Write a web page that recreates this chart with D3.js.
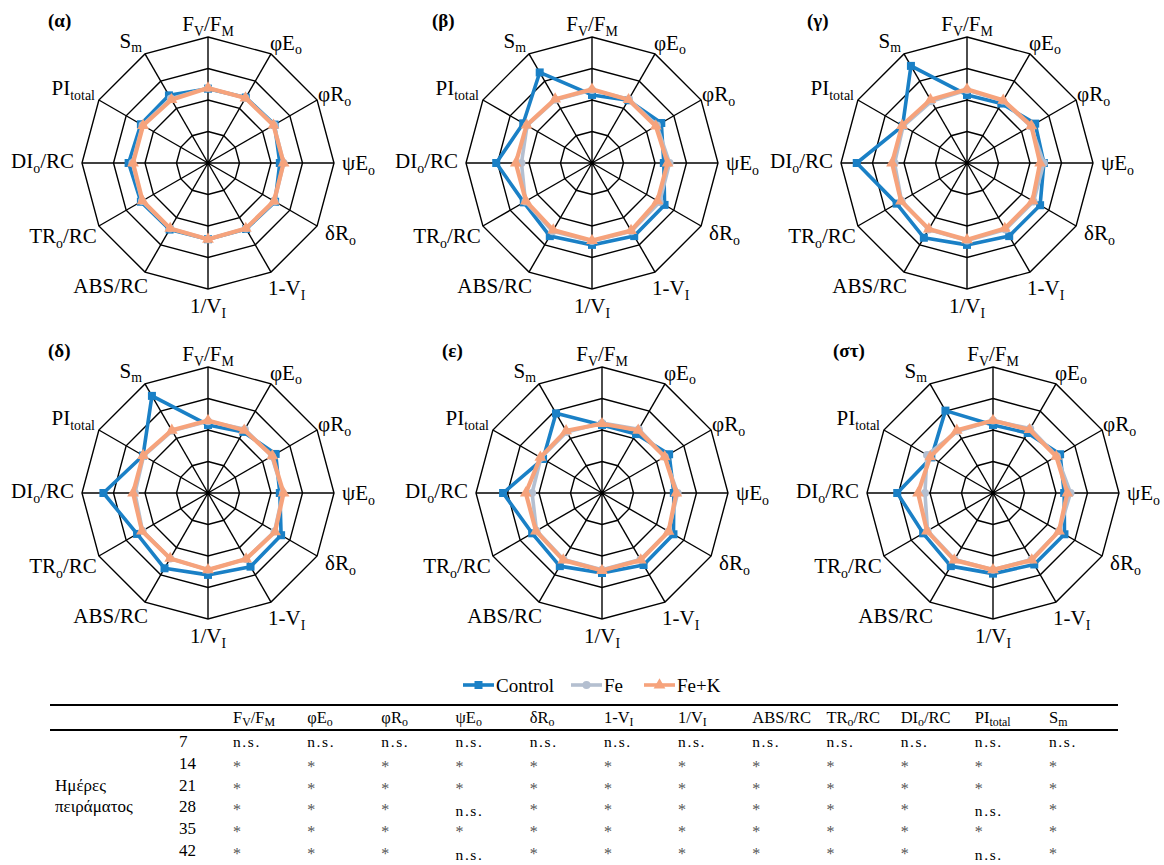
<!DOCTYPE html>
<html><head><meta charset="utf-8">
<script src="https://cdn.jsdelivr.net/npm/d3@7"></script>
</head><body style="margin:0">
<svg id="c" width="1164" height="865" style="display:block;font-family:serif"></svg>
<script>
// ---------------- DATA ----------------
const categories = ["F_{V}/F_{M}","φE_{o}","φR_{o}","ψE_{o}","δR_{o}","1-V_{I}","1/V_{I}","ABS/RC","TR_{o}/RC","DI_{o}/RC","PI_{total}","S_{m}"];
const panelTitles = ["(α)","(β)","(γ)","(δ)","(ε)","(στ)"];
const seriesNames = ["Control","Fe","Fe+K"];
const radialTicks = [0.5, 1, 1.5, 2];

// values per panel, order of categories
const control = [
  [1.18,1.20,1.22,1.14,1.23,1.21,1.21,1.22,1.23,1.26,1.23,1.24],
  [1.08,1.15,1.27,1.14,1.33,1.34,1.30,1.34,1.25,1.52,1.26,1.66],
  [1.08,1.09,1.25,1.22,1.34,1.34,1.30,1.37,1.29,1.75,1.18,1.78],
  [1.08,1.12,1.24,1.14,1.34,1.35,1.30,1.38,1.30,1.66,1.19,1.78],
  [1.08,1.08,1.23,1.14,1.31,1.32,1.27,1.34,1.28,1.57,1.08,1.46],
  [1.08,1.10,1.23,1.13,1.31,1.31,1.28,1.34,1.28,1.52,1.13,1.51]
];
const fe = [
  [1.19,1.19,1.21,1.20,1.22,1.20,1.21,1.20,1.21,1.20,1.20,1.18],
  [1.16,1.17,1.19,1.23,1.24,1.25,1.24,1.25,1.22,1.12,1.19,1.16],
  [1.16,1.14,1.17,1.22,1.22,1.22,1.23,1.22,1.20,1.15,1.17,1.13],
  [1.14,1.17,1.17,1.19,1.22,1.21,1.22,1.20,1.20,1.16,1.18,1.14],
  [1.11,1.17,1.15,1.20,1.22,1.22,1.22,1.22,1.20,1.11,1.12,1.12],
  [1.15,1.18,1.17,1.23,1.21,1.22,1.22,1.22,1.20,1.08,1.21,1.13]
];
const feK = [
  [1.19,1.19,1.20,1.20,1.21,1.20,1.21,1.20,1.20,1.19,1.19,1.16],
  [1.17,1.16,1.17,1.20,1.20,1.24,1.23,1.23,1.21,1.21,1.20,1.17],
  [1.17,1.15,1.18,1.16,1.20,1.20,1.22,1.21,1.21,1.19,1.19,1.16],
  [1.15,1.15,1.18,1.20,1.23,1.21,1.22,1.20,1.21,1.19,1.19,1.15],
  [1.10,1.15,1.15,1.18,1.22,1.23,1.23,1.23,1.21,1.21,1.13,1.14],
  [1.15,1.16,1.16,1.18,1.21,1.23,1.22,1.23,1.21,1.19,1.15,1.15]
];

// table
const tableHeaders = ["F_{V}/F_{M}","φE_{o}","φR_{o}","ψE_{o}","δR_{o}","1-V_{I}","1/V_{I}","ABS/RC","TR_{o}/RC","DI_{o}/RC","PI_{total}","S_{m}"];
const days = ["7","14","21","28","35","42"];
const rowLabel = ["Ημέρες","πειράματος"];
const NS = "n.s.", AST = "*";
const significance = [
  [NS,NS,NS,NS,NS,NS,NS,NS,NS,NS,NS,NS],
  [AST,AST,AST,AST,AST,AST,AST,AST,AST,AST,AST,AST],
  [AST,AST,AST,AST,AST,AST,AST,AST,AST,AST,AST,AST],
  [AST,AST,AST,NS,AST,AST,AST,AST,AST,AST,NS,AST],
  [AST,AST,AST,AST,AST,AST,AST,AST,AST,AST,AST,AST],
  [AST,AST,AST,NS,AST,AST,AST,AST,AST,AST,NS,AST]
];

// ---------------- LAYOUT / STYLE ----------------
const svg = d3.select("#c");
svg.append("rect").attr("width",1164).attr("height",865).attr("fill","#fff");
const colors = ["#1a80c6","#b4bfd0","#f6a37c"];
const centers = [[208,163],[592,163],[967,163],[208,493],[602,493],[993,493]];
const R = 126;
const rScale = d3.scaleLinear().domain([0,2]).range([0,R]);
const aScale = d3.scaleLinear().domain([0,categories.length]).range([0,2*Math.PI]);
// label anchor, dx, dy relative to outer vertex
const labelPos = [
  ["middle",0,-6],["start",-1,-4],["start",1,1],["start",8,7],["start",8,14],["start",-3,23],
  ["middle",0,24],["end",3,21],["end",-2,17],["end",-8,5],["end",-4,-5],["end",-3,-6]
];

function txt(sel){ return sel.append("text").attr("font-family","Liberation Serif").attr("fill","#000"); }

function rich(textSel, str, fs, subScale, subDy){
  const parts = str.split(/_\{([^}]*)\}/);
  let shifted = false;
  parts.forEach((p,i)=>{
    if(p==="") return;
    const t = textSel.append("tspan").text(p);
    if(i%2===1){
      t.attr("font-size", fs*subScale).attr("dy", subDy); shifted = true;
    } else if(shifted){
      t.attr("dy", -subDy); shifted = false;
    }
  });
}

const pt = (v,i)=>[rScale(v)*Math.sin(aScale(i)), -rScale(v)*Math.cos(aScale(i))];

centers.forEach((c,p)=>{
  const g = svg.append("g").attr("transform",`translate(${c[0]},${c[1]})`);
  radialTicks.forEach(t=>{
    const pts = categories.map((_,i)=>pt(t,i));
    g.append("path").attr("d", d3.line().curve(d3.curveLinearClosed)(pts))
      .attr("fill","none").attr("stroke","#000").attr("stroke-width",1.4);
  });
  categories.forEach((_,i)=>{
    const e = pt(2,i);
    g.append("line").attr("x1",0).attr("y1",0).attr("x2",e[0]).attr("y2",e[1])
      .attr("stroke","#000").attr("stroke-width",1.4);
  });
  g.append("circle").attr("r",2.2).attr("fill","#000");
  categories.forEach((lab,i)=>{
    const e = pt(2,i), lp = labelPos[i];
    const t = txt(g).attr("x",e[0]+lp[1]).attr("y",e[1]+lp[2])
      .attr("text-anchor",lp[0]).attr("font-size",21);
    rich(t, lab, 21, 0.66, 4.5);
  });
  txt(g).attr("x",-160).attr("y",-136).attr("font-size",19).attr("font-weight","bold")
    .text(panelTitles[p]);
  const allSeries = [control[p], fe[p], feK[p]];
  allSeries.forEach((vals,s)=>{
    const pts = vals.map((v,i)=>pt(v,i));
    g.append("path").attr("d", d3.line().curve(d3.curveLinearClosed)(pts))
      .attr("fill","none").attr("stroke",colors[s]).attr("stroke-width", s===2?4.2:3.6)
      .attr("stroke-linejoin","round");
    pts.forEach(q=>{
      if(s===0) g.append("rect").attr("x",q[0]-4).attr("y",q[1]-4).attr("width",8).attr("height",8).attr("fill",colors[0]);
      else if(s===1) g.append("circle").attr("cx",q[0]).attr("cy",q[1]).attr("r",4).attr("fill",colors[1]);
      else g.append("path").attr("transform",`translate(${q[0]},${q[1]})`)
        .attr("d", d3.symbol().type(d3.symbolTriangle).size(60)()).attr("fill",colors[2]);
    });
  });
});

// ---------------- LEGEND ----------------
const legX = [463,571,644];
const ly = 685;
seriesNames.forEach((n,s)=>{
  const x0 = legX[s];
  svg.append("line").attr("x1",x0).attr("x2",x0+31).attr("y1",ly).attr("y2",ly)
    .attr("stroke",colors[s]).attr("stroke-width",3.6);
  const cx = x0+15.5;
  if(s===0) svg.append("rect").attr("x",cx-4).attr("y",ly-4).attr("width",8).attr("height",8).attr("fill",colors[0]);
  else if(s===1) svg.append("circle").attr("cx",cx).attr("cy",ly).attr("r",4).attr("fill",colors[1]);
  else svg.append("path").attr("transform",`translate(${cx},${ly})`).attr("d",d3.symbol().type(d3.symbolTriangle).size(60)()).attr("fill",colors[2]);
  txt(svg).attr("x",x0+33).attr("y",ly+6.5).attr("font-size",19).text(n);
});

// ---------------- TABLE ----------------
const ruleX1 = 50, ruleX2 = 1118;
svg.append("line").attr("x1",ruleX1).attr("x2",ruleX2).attr("y1",705).attr("y2",705).attr("stroke","#000").attr("stroke-width",2);
svg.append("line").attr("x1",ruleX1).attr("x2",ruleX2).attr("y1",730).attr("y2",730).attr("stroke","#000").attr("stroke-width",2);
const colX = d3.scaleLinear().domain([0,11]).range([233,1049]);
tableHeaders.forEach((h,i)=>{
  const t = txt(svg).attr("x",colX(i)).attr("y",723).attr("font-size",16.5);
  rich(t, h, 16.5, 0.72, 2.5);
});
const rowY = d3.scaleLinear().domain([0,5]).range([747,856]);
days.forEach((d,r)=>{
  txt(svg).attr("x",179).attr("y",rowY(r)).attr("font-size",17).text(d);
  significance[r].forEach((v,i)=>{
    const t = txt(svg).attr("x",colX(i)).attr("font-size",v===NS?15.5:16);
    if(v===NS){
      const extra = (r===3||r===5)&&(i===3||i===10) ? 4 : 0;
      t.attr("y",rowY(r)+extra).attr("letter-spacing",1.6).text(v);
    } else {
      t.attr("y",rowY(r)+3).attr("fill","#555").text(v);
    }
  });
});
txt(svg).attr("x",55).attr("y",rowY(2)).attr("font-size",17).text(rowLabel[0]);
txt(svg).attr("x",55).attr("y",rowY(3)).attr("font-size",17).text(rowLabel[1]);
</script>
</body></html>
